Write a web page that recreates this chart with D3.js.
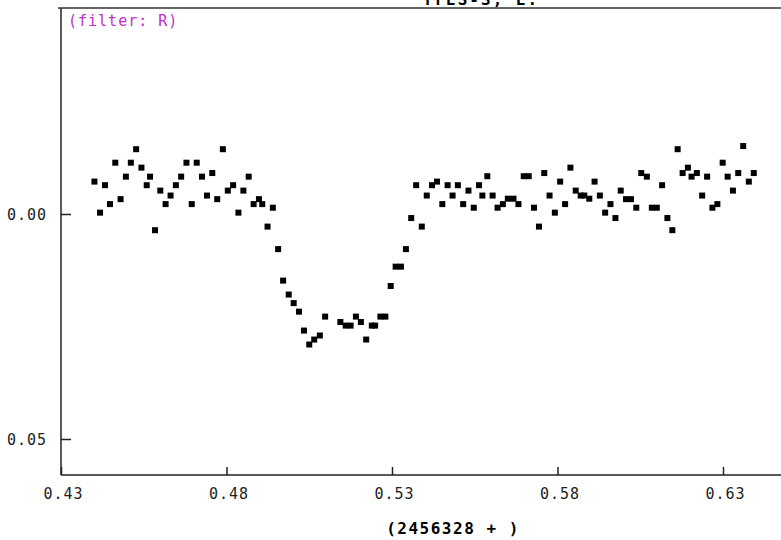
<!DOCTYPE html>
<html>
<head>
<meta charset="utf-8">
<script src="https://cdn.jsdelivr.net/npm/d3@7"></script>
<style>
  body { margin: 0; background: #fff; }
  svg { display: block; }
  .tick text { font-family: "DejaVu Sans Mono", monospace; font-size: 15px; fill: #222; letter-spacing: 1px; }
</style>
</head>
<body>
<div id="chart"></div>
<script>
// --- data (HJD - 2456328, rel. magnitude) ---
const hjd = [
  0.4401, 0.4418, 0.4433, 0.4448, 0.4464, 0.4480, 0.4496, 0.4511, 0.4527, 0.4543,
  0.4559, 0.4569, 0.4584, 0.4600, 0.4616, 0.4631, 0.4647, 0.4663, 0.4679, 0.4695,
  0.4710, 0.4726, 0.4741, 0.4757, 0.4772, 0.4789, 0.4804, 0.4820, 0.4836, 0.4851,
  0.4867, 0.4882, 0.4898, 0.4908, 0.4924, 0.4940, 0.4956, 0.4971, 0.4988, 0.5003,
  0.5019, 0.5034, 0.5050, 0.5065, 0.5082, 0.5098, 0.5144, 0.5160, 0.5175, 0.5191,
  0.5206, 0.5222, 0.5239, 0.5249, 0.5265, 0.5280, 0.5296, 0.5311, 0.5327, 0.5342,
  0.5358, 0.5373, 0.5390, 0.5405, 0.5421, 0.5436, 0.5452, 0.5468, 0.5483, 0.5499,
  0.5515, 0.5531, 0.5547, 0.5563, 0.5573, 0.5588, 0.5604, 0.5619, 0.5635, 0.5650,
  0.5667, 0.5682, 0.5698, 0.5713, 0.5729, 0.5744, 0.5760, 0.5776, 0.5792, 0.5808,
  0.5823, 0.5839, 0.5855, 0.5870, 0.5881, 0.5896, 0.5912, 0.5928, 0.5944, 0.5960,
  0.5975, 0.5991, 0.6007, 0.6022, 0.6038, 0.6053, 0.6070, 0.6085, 0.6100, 0.6116,
  0.6132, 0.6147, 0.6163, 0.6178, 0.6194, 0.6205, 0.6221, 0.6237, 0.6252, 0.6268,
  0.6283, 0.6299, 0.6314, 0.6330, 0.6346, 0.6361, 0.6378, 0.6393
];
const mag = [
  -0.0072, -0.0003, -0.0064, -0.0022, -0.0114, -0.0033, -0.0083, -0.0114, -0.0144, -0.0103,
  -0.0064, -0.0083, 0.0036, -0.0052, -0.0022, -0.0041, -0.0064, -0.0083, -0.0114, -0.0022,
  -0.0114, -0.0083, -0.0041, -0.0091, -0.0033, -0.0144, -0.0052, -0.0064, -0.0003, -0.0052,
  -0.0083, -0.0022, -0.0033, -0.0022, 0.0028, -0.0014, 0.0078, 0.0148, 0.0179, 0.0198,
  0.0217, 0.0259, 0.0290, 0.0279, 0.0270, 0.0228, 0.0240, 0.0248, 0.0248, 0.0228,
  0.0240, 0.0279, 0.0248, 0.0248, 0.0228, 0.0228, 0.0160, 0.0117, 0.0117, 0.0078,
  0.0009, -0.0064, 0.0028, -0.0041, -0.0064, -0.0072, -0.0022, -0.0064, -0.0041, -0.0064,
  -0.0022, -0.0052, -0.0014, -0.0064, -0.0041, -0.0084, -0.0041, -0.0014, -0.0022, -0.0034,
  -0.0034, -0.0022, -0.0084, -0.0084, -0.0014, 0.0028, -0.0091, -0.0041, -0.0003, -0.0072,
  -0.0022, -0.0103, -0.0052, -0.0041, -0.0041, -0.0034, -0.0072, -0.0041, -0.0003, -0.0022,
  0.0009, -0.0052, -0.0033, -0.0033, -0.0014, -0.0091, -0.0083, -0.0014, -0.0014, -0.0064,
  0.0009, 0.0036, -0.0144, -0.0091, -0.0103, -0.0083, -0.0091, -0.0041, -0.0083, -0.0014,
  -0.0022, -0.0114, -0.0083, -0.0052, -0.0091, -0.0151, -0.0072, -0.0091
];
const xTicks = [0.43, 0.48, 0.53, 0.58, 0.63];
const yTicks = [0.00, 0.05];
const titleText = 'TrES-3, E.';
const filterText = '(filter: R)';
const xLabel = '(2456328 + )';

const width = 781, height = 540;
const plot = {left: 61, top: 8, bottom: 475, right: 900};

const svg = d3.select('#chart').append('svg')
  .attr('width', width)
  .attr('height', height);

// scales: magnitude axis runs downwards (brighter at top)
const x = d3.scaleLinear().domain([0.43, 0.63]).range([61, 723]);
const y = d3.scaleLinear().domain([0.00, 0.05]).range([214, 439]);

// x axis, ticks pointing inward
const xAxis = svg.append('g')
  .attr('transform', `translate(0,${plot.bottom})`)
  .call(d3.axisBottom(x).tickValues(xTicks).tickFormat(d3.format('.2f'))
    .tickSizeInner(-8).tickSizeOuter(0).tickPadding(13));
xAxis.select('.domain').remove();
xAxis.selectAll('.tick line').attr('stroke', '#222').attr('stroke-width', 1.5);
xAxis.selectAll('.tick text').attr('dx', 2);

// y axis
const yAxis = svg.append('g')
  .attr('transform', `translate(${plot.left},0)`)
  .call(d3.axisLeft(y).tickValues(yTicks).tickFormat(d3.format('.2f'))
    .tickSizeInner(-10).tickSizeOuter(0).tickPadding(14));
yAxis.select('.domain').remove();
yAxis.selectAll('.tick line').attr('stroke', '#222').attr('stroke-width', 1.5);
yAxis.selectAll('.tick text').attr('dy', '0.36em');

// frame lines
svg.append('line')
  .attr('x1', plot.left).attr('x2', plot.right)
  .attr('y1', plot.bottom).attr('y2', plot.bottom)
  .attr('stroke', '#222').attr('stroke-width', 1.5);
svg.append('line')
  .attr('x1', plot.left).attr('x2', plot.left)
  .attr('y1', plot.top).attr('y2', plot.bottom)
  .attr('stroke', '#222').attr('stroke-width', 1.5);
svg.append('line')
  .attr('x1', plot.left - 3).attr('x2', plot.right)
  .attr('y1', plot.top).attr('y2', plot.top)
  .attr('stroke', '#333').attr('stroke-width', 1.5);

// data points
const pts = hjd.map((t, i) => ({t, m: mag[i]}));
svg.append('g').selectAll('rect')
  .data(pts)
  .join('rect')
  .attr('x', d => x(d.t) - 3)
  .attr('y', d => y(d.m) - 3)
  .attr('width', 6)
  .attr('height', 6)
  .attr('fill', '#000');

// texts
svg.append('text')
  .attr('x', 481).attr('y', 5)
  .attr('text-anchor', 'middle')
  .attr('font-family', '"DejaVu Sans Mono", monospace')
  .attr('font-weight', 'bold')
  .attr('font-size', 16)
  .attr('letter-spacing', 2)
  .attr('fill', '#000')
  .text(titleText);

svg.append('text')
  .attr('x', 68).attr('y', 26)
  .attr('font-family', '"DejaVu Sans Mono", monospace')
  .attr('font-size', 15)
  .attr('letter-spacing', 1)
  .attr('fill', '#c030c8')
  .text(filterText);

svg.append('text')
  .attr('x', 453).attr('y', 534)
  .attr('text-anchor', 'middle')
  .attr('font-family', '"DejaVu Sans Mono", monospace')
  .attr('font-weight', 'bold')
  .attr('font-size', 16)
  .attr('letter-spacing', 1.5)
  .attr('fill', '#000')
  .text(xLabel);
</script>
</body>
</html>
